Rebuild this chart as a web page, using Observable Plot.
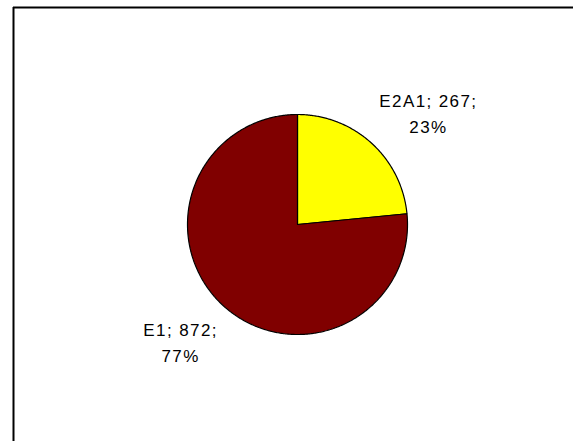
<!DOCTYPE html>
<html>
<head>
<meta charset="utf-8">
<script src="https://cdn.jsdelivr.net/npm/d3@7"></script>
<script src="https://cdn.jsdelivr.net/npm/@observablehq/plot@0.6"></script>
<style>
  html, body { margin: 0; padding: 0; background: #fff; }
  #chart svg text { letter-spacing: 1.4px; }
</style>
</head>
<body>
<div id="chart"></div>
<script>
// Data
const categories = ["E2A1", "E1"];
const values = [267, 872];
const colors = ["#FFFF00", "#800000"];

// Layout (pixels)
const W = 573, H = 441;
const cx = 297, cy = 224, R = 110;
const mLeft = 13, mTop = 7;

const total = d3.sum(values);
const rows = categories.map((name, i) => ({name, value: values[i]}));
const arcs = d3.pie().sort(null).value(d => d.value)(rows);

// Slice outlines in unit-radius coordinates (y up), built from pie angles
const slicePts = [];
for (const a of arcs) {
  const n = Math.max(2, Math.ceil((a.endAngle - a.startAngle) / 0.01));
  slicePts.push({name: a.data.name, x: 0, y: 0});
  for (let k = 0; k <= n; k++) {
    const t = a.startAngle + (a.endAngle - a.startAngle) * k / n;
    slicePts.push({name: a.data.name, x: Math.sin(t), y: Math.cos(t)});
  }
  slicePts.push({name: a.data.name, x: 0, y: 0});
}

const labels = arcs.map(a => {
  const m = (a.startAngle + a.endAngle) / 2;
  return {
    name: a.data.name,
    x: Math.sin(m),
    y: Math.cos(m),
    text: `${a.data.name}; ${a.data.value};\n${Math.round(a.data.value / total * 100)}%`
  };
});

const xDomain = [(mLeft - cx) / R, (W - cx) / R];
const yDomain = [-(H - cy) / R, (cy - mTop) / R];

const chart = Plot.plot({
  width: W,
  height: H,
  marginLeft: mLeft,
  marginTop: mTop,
  marginRight: 0,
  marginBottom: 0,
  x: {domain: xDomain, axis: null},
  y: {domain: yDomain, axis: null},
  color: {domain: categories, range: colors},
  style: {fontFamily: "'Liberation Sans', Arial, sans-serif", background: "#fff", overflow: "visible"},
  marks: [
    Plot.ruleY([yDomain[1]], {stroke: "#000", strokeWidth: 2}),
    Plot.ruleX([xDomain[0]], {stroke: "#000", strokeWidth: 2}),
    Plot.line(slicePts, {x: "x", y: "y", z: "name", fill: "name", stroke: "#000", strokeWidth: 1.2, strokeLinejoin: "miter"}),
    Plot.text(labels.filter(d => d.name === "E2A1"), {
      x: "x", y: "y", text: "text", dx: 57, dy: -31,
      fontSize: 17, lineHeight: 1.53, fill: "#000", lineAnchor: "middle", textAnchor: "middle"
    }),
    Plot.text(labels.filter(d => d.name === "E1"), {
      x: "x", y: "y", text: "text", dx: -43, dy: 35,
      fontSize: 17, lineHeight: 1.53, fill: "#000", lineAnchor: "middle", textAnchor: "middle"
    })
  ]
});
document.getElementById("chart").appendChild(chart);
</script>
</body>
</html>
